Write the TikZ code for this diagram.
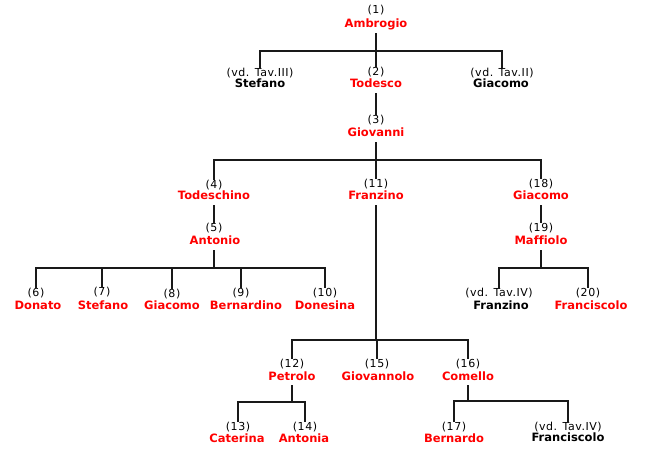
\documentclass[tikz,border=0pt]{standalone}
\usepackage{fontspec}
\setmainfont{DejaVu Sans}[Ligatures=NoCommon]
\newfontfamily\numfont[LetterSpace=5]{DejaVu Sans}
\definecolor{namered}{RGB}{255,0,0}
\tikzset{
  num/.style={font=\numfont\fontsize{11}{11}\selectfont, inner sep=0pt, inner ysep=1pt,
              text height=7.5pt, text depth=2pt, anchor=base},
  nm/.style={font=\bfseries\fontsize{11.5}{11.5}\selectfont, inner sep=0pt,
             text height=8pt, text depth=5pt, anchor=base, text=namered},
  xref/.style={nm, text=black},
  ln/.style={line width=2.4pt, draw=black!90, line join=miter},
}
\begin{document}
\begin{tikzpicture}[x=1pt,y=-1pt]
\useasboundingbox (0,0) rectangle (651,457);
% bar levels
\coordinate (b1) at (0,51);
\coordinate (b2) at (0,160);
\coordinate (b3) at (0,268);
\coordinate (b4) at (0,340);
\coordinate (b5) at (0,402);
\coordinate (b6) at (0,401);
% level 1
\node[num] (n1) at (376,13.5) {(1)};
\node[nm]  (p1) at (376,28) {Ambrogio};
% level 2
\node[num]  (nSt) at (260,76.5) {(vd. Tav.III)};
\node[xref] (pSt) at (260,88) {Stefano};
\node[num]  (n2)  at (376,75.5) {(2)};
\node[nm]   (p2)  at (376,88) {Todesco};
\node[num]  (nGi) at (502,76.5) {(vd. Tav.II)};
\node[xref] (pGi) at (501,88) {Giacomo};
% level 3
\node[num] (n3) at (376,123.5) {(3)};
\node[nm]  (p3) at (376,137) {Giovanni};
% level 4
\node[num] (n4)  at (214,188.5) {(4)};
\node[nm]  (p4)  at (214,200) {Todeschino};
\node[num] (n11) at (376,187.5) {(11)};
\node[nm]  (p11) at (376,200) {Franzino};
\node[num] (n18) at (541,187.5) {(18)};
\node[nm]  (p18) at (541,200) {Giacomo};
% level 5
\node[num] (n5)  at (214,231.5) {(5)};
\node[nm]  (p5)  at (215,245) {Antonio};
\node[num] (n19) at (541,231.5) {(19)};
\node[nm]  (p19) at (541,245) {Maffiolo};
% Antonio's children
\node[num] (n6)  at (36,296.5)  {(6)};
\node[nm]  (p6)  at (38,309)  {Donato};
\node[num] (n7)  at (102,295.5) {(7)};
\node[nm]  (p7)  at (103,309) {Stefano};
\node[num] (n8)  at (172,297.5) {(8)};
\node[nm]  (p8)  at (172,309) {Giacomo};
\node[num] (n9)  at (241,296.5) {(9)};
\node[nm]  (p9)  at (246,309) {Bernardino};
\node[num] (n10) at (325,296.5) {(10)};
\node[nm]  (p10) at (325,309) {Donesina};
% Maffiolo's children
\node[num]  (nFz) at (499,296.5) {(vd. Tav.IV)};
\node[xref] (pFz) at (501,309) {Franzino};
\node[num]  (n20) at (588,296.5) {(20)};
\node[nm]   (p20) at (591,309) {Franciscolo};
% Franzino's children
\node[num] (n12) at (292,367.5) {(12)};
\node[nm]  (p12) at (292,380) {Petrolo};
\node[num] (n15) at (377,367.5) {(15)};
\node[nm]  (p15) at (378,380) {Giovannolo};
\node[num] (n16) at (468,367.5) {(16)};
\node[nm]  (p16) at (468,380) {Comello};
% Petrolo's children
\node[num] (n13) at (238,430.5) {(13)};
\node[nm]  (p13) at (237,442) {Caterina};
\node[num] (n14) at (305,430.5) {(14)};
\node[nm]  (p14) at (304,442) {Antonia};
% Comello's children
\node[num]  (n17) at (454,430.5) {(17)};
\node[nm]   (p17) at (454,442) {Bernardo};
\node[num]  (nFc) at (568,430.5) {(vd. Tav.IV)};
\node[xref] (pFc) at (568,441) {Franciscolo};

% connectors
% Ambrogio
\draw[ln] (p1.south) -- (p1.south |- b1);
\draw[ln] (nSt.north) -- (nSt.north |- b1) -- (nGi.north |- b1) -- (nGi.north);
\draw[ln] (n2.north |- b1) -- (n2.north);
% Todesco -> Giovanni
\draw[ln] (p2.south) -- (n3.north);
% Giovanni
\draw[ln] (p3.south) -- (p3.south |- b2);
\draw[ln] (n4.north) -- (n4.north |- b2) -- (n18.north |- b2) -- (n18.north);
\draw[ln] (n11.north |- b2) -- (n11.north);
% Todeschino -> Antonio, Giacomo -> Maffiolo
\draw[ln] (p4.south) -- (n5.north);
\draw[ln] (p18.south) -- (n19.north);
% Antonio
\draw[ln] (n5.north |- p5.south) -- (n5.north |- b3);
\draw[ln] (n6.north) -- (n6.north |- b3) -- (n10.north |- b3) -- (n10.north);
\foreach \c in {n7,n8,n9} \draw[ln] (\c.north |- b3) -- (\c.north);
% Maffiolo
\draw[ln] (p19.south) -- (p19.south |- b3);
\draw[ln] (nFz.north) -- (nFz.north |- b3) -- (n20.north |- b3) -- (n20.north);
% Franzino
\draw[ln] (p11.south) -- (p11.south |- b4);
\draw[ln] (n12.north) -- (n12.north |- b4) -- (n16.north |- b4) -- (n16.north);
\draw[ln] (n15.north |- b4) -- (n15.north);
% Petrolo
\draw[ln] (p12.south) -- (p12.south |- b5);
\draw[ln] (n13.north) -- (n13.north |- b5) -- (n14.north |- b5) -- (n14.north);
% Comello
\draw[ln] (p16.south) -- (p16.south |- b6);
\draw[ln] (n17.north) -- (n17.north |- b6) -- (nFc.north |- b6) -- (nFc.north);
\end{tikzpicture}
\end{document}
